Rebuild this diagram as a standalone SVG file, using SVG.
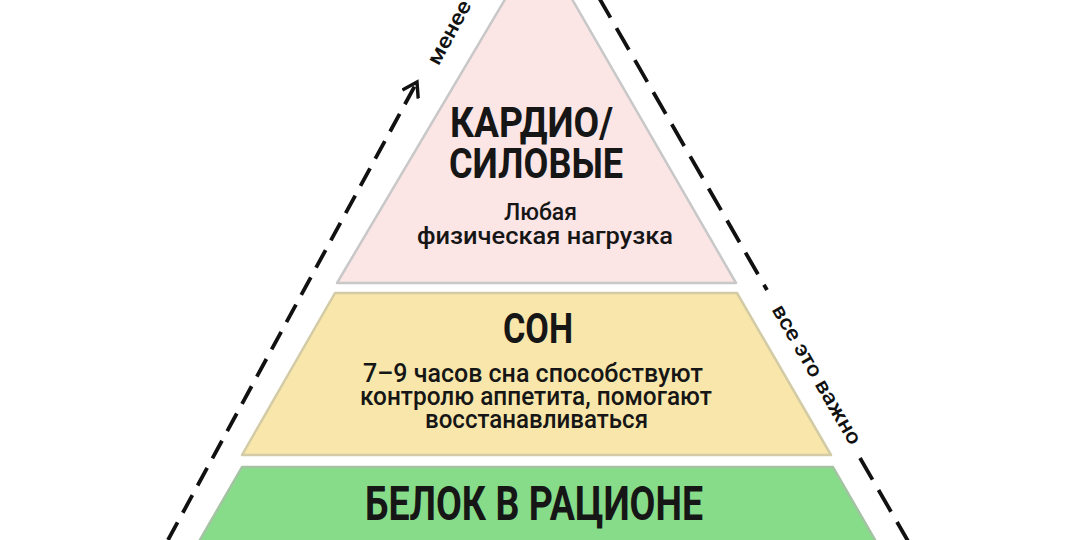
<svg xmlns="http://www.w3.org/2000/svg" width="1075" height="540" viewBox="0 0 1075 540">
<defs>
<style>
.title{font-family:Roboto,"Liberation Sans","Noto Sans",sans-serif;font-weight:700;fill:#161616}
.sub{font-family:Roboto,"Liberation Sans","Noto Sans",sans-serif;font-weight:500;fill:#161616}
.side{font-family:Roboto,"Liberation Sans","Noto Sans",sans-serif;font-weight:500;fill:#111;font-size:21px}
.dash{fill:none;stroke:#111;stroke-width:3.8;stroke-linecap:butt}
</style>
<marker id="arr" viewBox="0 0 20 20" refX="17" refY="10" markerWidth="20" markerHeight="20" markerUnits="userSpaceOnUse" orient="auto">
<path d="M3,1 L17,10 L3,19" fill="none" stroke="#111" stroke-width="3.4" stroke-linejoin="miter"/>
</marker>
</defs>
<rect width="1075" height="540" fill="#ffffff"/>

<g id="connectors">
<line class="dash" x1="168" y1="540" x2="417" y2="82" stroke-dasharray="20 11" marker-end="url(#arr)"/>
<line class="dash" x1="598" y1="-4" x2="767" y2="290" stroke-dasharray="25 12"/>
<line class="dash" x1="860" y1="458" x2="912" y2="548" stroke-dasharray="25 12"/>
<text class="side" transform="translate(450,33) rotate(-61.5)" x="0" y="6" text-anchor="middle" textLength="70" lengthAdjust="spacingAndGlyphs">менее</text>
<text class="side" transform="translate(816,375) rotate(60)" x="0" y="6" text-anchor="middle" textLength="158" lengthAdjust="spacingAndGlyphs">все это важно</text>
</g>

<g id="level-cardio">
<path d="M539,-58 L736,283 L337,283 Z" fill="#fbe5e5" stroke="#c8c8c8" stroke-width="2.5" stroke-linejoin="round"/>
<text class="title" x="450" y="137" font-size="42" textLength="163" lengthAdjust="spacingAndGlyphs">КАРДИО/</text>
<text class="title" x="449" y="178" font-size="42" textLength="174" lengthAdjust="spacingAndGlyphs">СИЛОВЫЕ</text>
<text class="sub" x="504" y="220" font-size="24" textLength="73" lengthAdjust="spacingAndGlyphs">Любая</text>
<text class="sub" x="417" y="244" font-size="24" textLength="256" lengthAdjust="spacingAndGlyphs">физическая нагрузка</text>
</g>

<g id="level-sleep">
<path d="M335,293 L737,293 L831,455 L242,455 Z" fill="#f8e6aa" stroke="#d3cba6" stroke-width="2.5" stroke-linejoin="round"/>
<text class="title" x="503" y="343" font-size="42" textLength="70" lengthAdjust="spacingAndGlyphs">СОН</text>
<text class="sub" x="363" y="382" font-size="25" textLength="340" lengthAdjust="spacingAndGlyphs">7–9 часов сна способствуют</text>
<text class="sub" x="360" y="405" font-size="25" textLength="352" lengthAdjust="spacingAndGlyphs">контролю аппетита, помогают</text>
<text class="sub" x="425" y="428" font-size="25" textLength="223" lengthAdjust="spacingAndGlyphs">восстанавливаться</text>
</g>

<g id="level-protein">
<path d="M242,467 L833,467 L878,545 L197,545 Z" fill="#87dc8a" stroke="#a3c3a3" stroke-width="2.5" stroke-linejoin="round"/>
<text class="title" x="365" y="520" font-size="48" textLength="338" lengthAdjust="spacingAndGlyphs">БЕЛОК В РАЦИОНЕ</text>
</g>
</svg>
